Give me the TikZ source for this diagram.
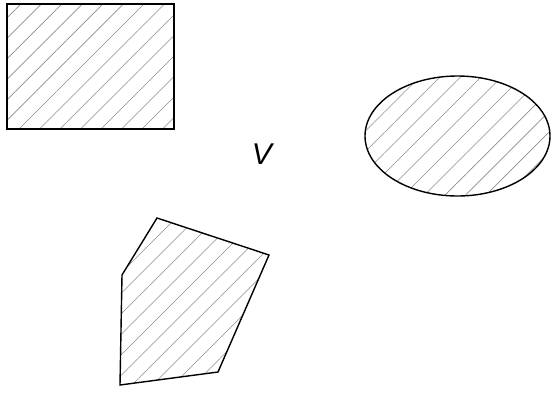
\documentclass[tikz,border=0pt]{standalone}
\usepackage{fontspec}
\setsansfont{Liberation Sans}
\usetikzlibrary{patterns.meta}
\tikzset{
  region/.style={draw=black, line width=1.4pt, line join=miter,
    pattern={Lines[angle=45, distance=14.5pt, line width=0.6pt]}, pattern color=black!45},
  lbl/.style={font=\fontsize{30}{34}\selectfont\sffamily\itshape, inner sep=0pt}
}
\begin{document}
\begin{tikzpicture}[x=1pt, y=-1pt]
  \useasboundingbox (0,0) rectangle (551,394);
  % rectangle
  \draw[region] (7,4) rectangle (174,129);
  % ellipse
  \draw[region] (457.5,136) ellipse [x radius=92.5, y radius=60];
  % polygon
  \draw[region] (157,218) -- (269,255) -- (218,372) -- (120,385) -- (122,275) -- cycle;
  \node[lbl] (v) at (262,154) {V};
\end{tikzpicture}
\end{document}
